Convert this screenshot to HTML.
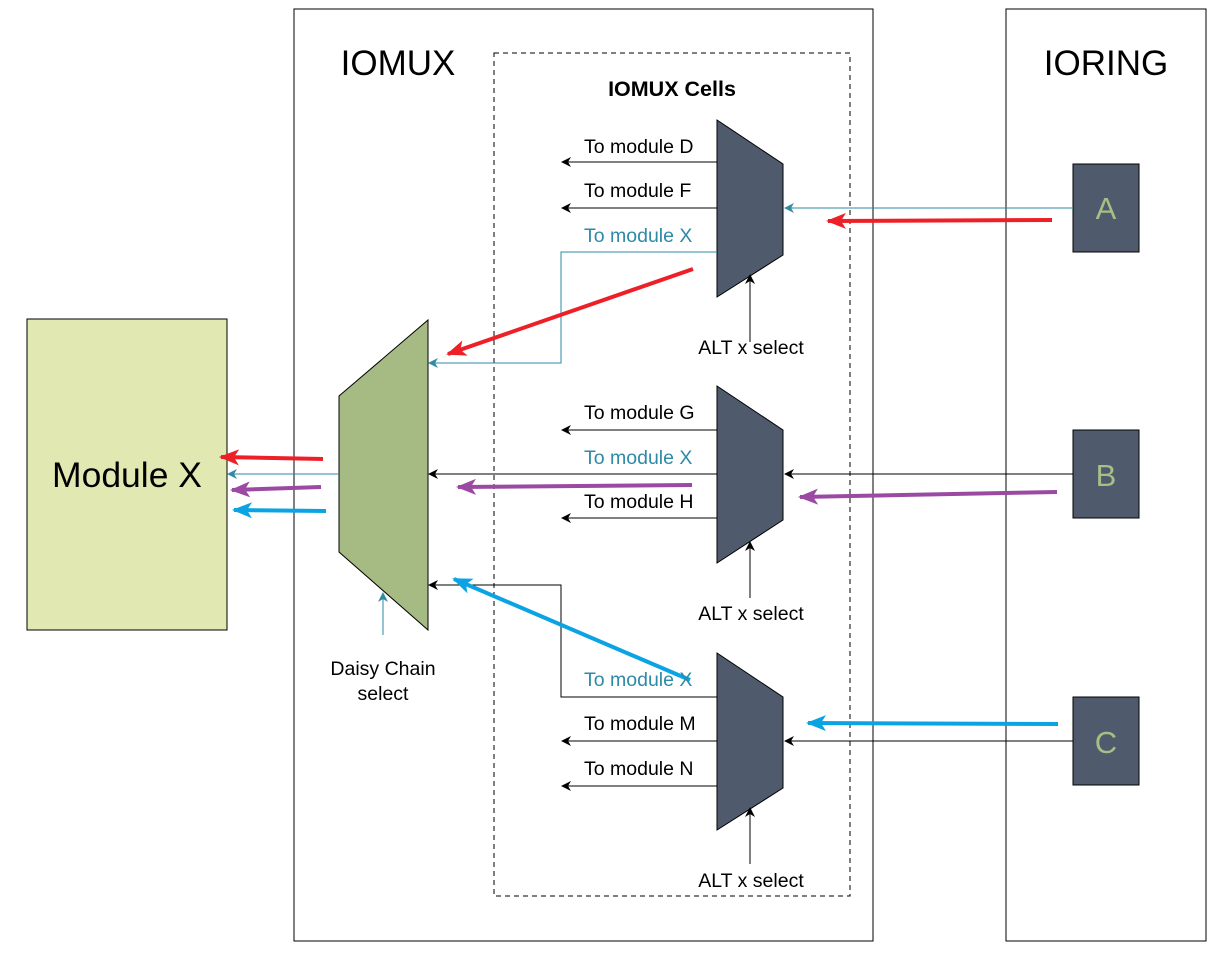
<!DOCTYPE html>
<html><head><style>body{margin:0;background:#fff}svg{display:block}text{font-family:"Liberation Sans",sans-serif}</style></head><body>
<svg width="1228" height="955" viewBox="0 0 1228 955" xmlns="http://www.w3.org/2000/svg">
<defs>
<marker id="ab" markerWidth="10" markerHeight="10" refX="9" refY="5" orient="auto" markerUnits="userSpaceOnUse"><path d="M0,0 L10,5 L0,10 L3,5z" fill="#000"/></marker>
<marker id="at" markerWidth="10" markerHeight="10" refX="9" refY="5" orient="auto" markerUnits="userSpaceOnUse"><path d="M0,0 L10,5 L0,10 L3,5z" fill="#2f8aa6"/></marker>
<marker id="ar" markerWidth="20" markerHeight="16" refX="18" refY="8" orient="auto" markerUnits="userSpaceOnUse"><path d="M0,0 L20,8 L0,16 L5,8z" fill="#ee2027"/></marker>
<marker id="ap" markerWidth="20" markerHeight="16" refX="18" refY="8" orient="auto" markerUnits="userSpaceOnUse"><path d="M0,0 L20,8 L0,16 L5,8z" fill="#9b4aa3"/></marker>
<marker id="ac" markerWidth="20" markerHeight="16" refX="18" refY="8" orient="auto" markerUnits="userSpaceOnUse"><path d="M0,0 L20,8 L0,16 L5,8z" fill="#0aa3e4"/></marker>
</defs>
<rect x="294" y="9" width="579" height="932" fill="none" stroke="#000"/>
<rect x="1006" y="9" width="200" height="932" fill="none" stroke="#000"/>
<rect x="494" y="53" width="356" height="843" fill="none" stroke="#000" stroke-dasharray="5,4"/>
<rect x="27" y="319" width="200" height="311" fill="#e2e8b1" stroke="#000"/>
<text x="127" y="487" font-size="35.5" text-anchor="middle">Module X</text>
<text x="398" y="75" font-size="35" text-anchor="middle">IOMUX</text>
<text x="1106" y="75" font-size="35" text-anchor="middle">IORING</text>
<text x="672" y="96" font-size="21.5" font-weight="bold" text-anchor="middle">IOMUX Cells</text>
<rect x="1073" y="164" width="66" height="88" fill="#4f5b6c" stroke="#000"/>
<rect x="1073" y="430" width="66" height="88" fill="#4f5b6c" stroke="#000"/>
<rect x="1073" y="697" width="66" height="88" fill="#4f5b6c" stroke="#000"/>
<g fill="#a6bf85" font-size="31" text-anchor="middle"><text x="1106" y="219">A</text><text x="1106" y="486">B</text><text x="1106" y="753">C</text></g>
<polygon points="339,396 428,320 428,630 339,552" fill="#a6ba83" stroke="#000"/>
<g fill="#4f5b6c" stroke="#000">
<polygon points="717,120 783,164 783,255 717,297"/>
<polygon points="717,386 783,430 783,520 717,563"/>
<polygon points="717,653 783,697 783,788 717,830"/>
</g>
<g stroke="#000" fill="none" marker-end="url(#ab)">
<path d="M717,162 H562"/><path d="M717,208 H562"/>
<path d="M717,430 H562"/><path d="M717,518 H562"/>
<path d="M717,741 H562"/><path d="M717,786 H562"/>
<path d="M750,342 V275"/><path d="M750,598 V542"/><path d="M750,864 V808"/>
<path d="M1073,474 H785"/><path d="M1073,741 H785"/>
<path d="M717,474 H429"/>
<path d="M717,697 H561 V585 H429"/>
</g>
<g stroke="#2f8aa6" fill="none" marker-end="url(#at)">
<path d="M1073,208 H785"/>
<path d="M717,252 H561 V363 H429"/>
<path d="M339,474 H228"/>
<path d="M383,635 V593"/>
</g>
<g stroke-width="4" fill="none">
<path d="M1052,220 L828,221" stroke="#ee2027" marker-end="url(#ar)"/>
<path d="M693,269 L448,354" stroke="#ee2027" marker-end="url(#ar)"/>
<path d="M323,459 L221,457" stroke="#ee2027" marker-end="url(#ar)"/>
<path d="M1057,492 L800,497" stroke="#9b4aa3" marker-end="url(#ap)"/>
<path d="M692,485 L458,487" stroke="#9b4aa3" marker-end="url(#ap)"/>
<path d="M321,487 L232,490" stroke="#9b4aa3" marker-end="url(#ap)"/>
<path d="M1058,724 L808,723" stroke="#0aa3e4" marker-end="url(#ac)"/>
<path d="M690,680 L454,579" stroke="#0aa3e4" marker-end="url(#ac)"/>
<path d="M326,511 L234,510" stroke="#0aa3e4" marker-end="url(#ac)"/>
</g>
<g font-size="19.5">
<text x="584" y="153">To module D</text>
<text x="584" y="197">To module F</text>
<text x="584" y="242" fill="#2f8aa6">To module X</text>
<text x="584" y="419">To module G</text>
<text x="584" y="464" fill="#2f8aa6">To module X</text>
<text x="584" y="508">To module H</text>
<text x="584" y="686" fill="#2f8aa6">To module X</text>
<text x="584" y="730">To module M</text>
<text x="584" y="775">To module N</text>
<text x="751" y="354" text-anchor="middle">ALT x select</text>
<text x="751" y="620" text-anchor="middle">ALT x select</text>
<text x="751" y="887" text-anchor="middle">ALT x select</text>
<text x="383" y="675" text-anchor="middle">Daisy Chain</text>
<text x="383" y="700" text-anchor="middle">select</text>
</g>
</svg>
</body></html>
